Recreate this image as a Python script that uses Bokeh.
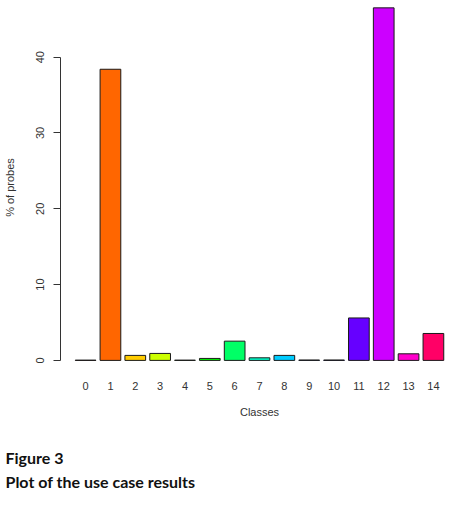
from bokeh.plotting import figure
from bokeh.models import ColumnDataSource, Range1d, FixedTicker, Title
from bokeh.embed import file_html
from bokeh.resources import INLINE

classes = list(range(15))
class_labels = [str(c) for c in classes]
percent = [0.03, 38.4, 0.66, 0.92, 0.03, 0.26, 2.54, 0.34, 0.66, 0.05, 0.05, 5.6, 46.5, 0.87, 3.55]
colors = ["#FF0000", "#FF6600", "#FFCC00", "#CCFF00", "#66FF00", "#00FF00", "#00FF66", "#00FFCC",
          "#00CCFF", "#0066FF", "#0000FF", "#6600FF", "#CC00FF", "#FF00CC", "#FF0066"]
y_ticks = [0, 10, 20, 30, 40]
caption_lines = ["Figure 3", "Plot of the use case results"]

FONT = "Liberation Sans"
TXT = "#333333"

src = ColumnDataSource(dict(x=classes, top=percent, color=colors))

p = figure(width=472, height=524, output_backend="svg", toolbar_location=None,
           x_range=Range1d(-1.01, 15.01), y_range=Range1d(-1.86, 47.47),
           min_border_left=59, min_border_right=14, min_border_top=0, min_border_bottom=150)
p.vbar(x="x", top="top", bottom=0, width=1/1.2, fill_color="color",
       line_color="#1a1a1a", line_width=1, source=src)

p.outline_line_color = None
p.grid.visible = False
p.background_fill_color = "white"
p.border_fill_color = "white"

# x axis: labels only
xa = p.xaxis[0]
xa.ticker = FixedTicker(ticks=classes)
xa.major_label_overrides = {c: l for c, l in zip(classes, class_labels)}
xa.axis_line_color = None
xa.major_tick_line_color = None
xa.minor_tick_line_color = None
xa.major_label_standoff = 1
xa.major_label_text_font = FONT
xa.major_label_text_font_size = "11px"
xa.major_label_text_color = TXT
xa.axis_label = "Classes"
xa.axis_label_standoff = 13
xa.axis_label_text_font = FONT
xa.axis_label_text_font_size = "11px"
xa.axis_label_text_font_style = "normal"
xa.axis_label_text_color = TXT

ya = p.yaxis[0]
ya.ticker = FixedTicker(ticks=y_ticks)
ya.bounds = (y_ticks[0], y_ticks[-1])
ya.axis_line_color = TXT
ya.major_tick_line_color = TXT
ya.major_tick_out = 7
ya.major_tick_in = 0
ya.minor_tick_line_color = None
ya.major_label_orientation = "vertical"
ya.major_label_standoff = 9
ya.major_label_text_font = FONT
ya.major_label_text_font_size = "11px"
ya.major_label_text_color = TXT
ya.axis_label = "% of probes"
ya.axis_label_standoff = 18
ya.axis_label_text_font = FONT
ya.axis_label_text_font_size = "11px"
ya.axis_label_text_font_style = "normal"
ya.axis_label_text_color = TXT

# spacer between the axis title and the caption
p.add_layout(Title(text=" ", standoff=22, text_font_size="1px"), "below")

# caption as titles below the plot
for text, gap in zip(caption_lines, [0, 6]):
    p.add_layout(Title(text=text, align="left", offset=-55, standoff=gap,
                       text_font="Lato", text_font_style="bold", text_font_size="16px",
                       text_color="#111111"), "below")

open("out.html", "w").write(file_html(p, INLINE))
